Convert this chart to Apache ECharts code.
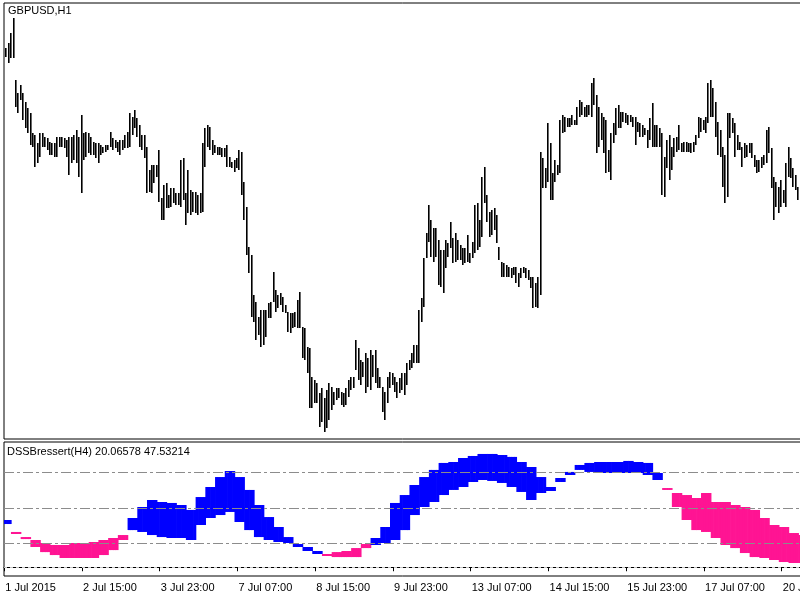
<!DOCTYPE html>
<html><head><meta charset="utf-8">
<script src="https://cdn.jsdelivr.net/npm/echarts@6/dist/echarts.min.js"></script>
<style>html,body{margin:0;padding:0;background:#fff}#c{width:800px;height:600px}</style>
</head><body><div id="c"></div><script>
const symbolTitle = 'GBPUSD,H1';
const indicatorTitle = 'DSSBressert(H4) 20.06578 47.53214';
const tickLabels = ['1 Jul 2015','2 Jul 15:00','3 Jul 23:00','7 Jul 07:00','8 Jul 15:00','9 Jul 23:00','13 Jul 07:00','14 Jul 15:00','15 Jul 23:00','17 Jul 07:00','20 Jul 15:00'];
const barsPerLabel = 32;

const barHigh = [
1.5752,1.5757,1.5767,1.5782,1.5720,1.5707,1.5715,1.5707,1.5698,1.5692,
1.5687,1.5667,1.5665,1.5657,1.5667,1.5667,1.5663,1.5662,1.5658,1.5657,
1.5657,1.5663,1.5663,1.5663,1.5662,1.5660,1.5663,1.5663,1.5665,1.5670,
1.5663,1.5685,1.5667,1.5668,1.5667,1.5663,1.5658,1.5657,1.5657,1.5655,
1.5653,1.5655,1.5655,1.5668,1.5662,1.5660,1.5658,1.5660,1.5660,1.5665,
1.5668,1.5687,1.5683,1.5690,1.5682,1.5675,1.5665,1.5665,1.5653,1.5630,
1.5635,1.5635,1.5635,1.5650,1.5602,1.5615,1.5617,1.5605,1.5612,1.5612,
1.5607,1.5607,1.5640,1.5642,1.5607,1.5630,1.5610,1.5608,1.5608,1.5605,
1.5607,1.5657,1.5672,1.5675,1.5673,1.5660,1.5655,1.5653,1.5653,1.5652,
1.5652,1.5655,1.5643,1.5638,1.5640,1.5642,1.5650,1.5648,1.5618,1.5593,
1.5553,1.5545,1.5505,1.5498,1.5483,1.5490,1.5490,1.5490,1.5497,1.5498,
1.5528,1.5510,1.5505,1.5507,1.5503,1.5495,1.5488,1.5487,1.5487,1.5488,
1.5500,1.5508,1.5473,1.5472,1.5453,1.5452,1.5423,1.5420,1.5417,1.5407,
1.5412,1.5402,1.5410,1.5417,1.5413,1.5408,1.5412,1.5412,1.5408,1.5407,
1.5412,1.5420,1.5423,1.5423,1.5460,1.5452,1.5440,1.5438,1.5447,1.5442,
1.5450,1.5445,1.5450,1.5432,1.5423,1.5413,1.5408,1.5423,1.5428,1.5427,
1.5423,1.5418,1.5422,1.5427,1.5427,1.5437,1.5440,1.5447,1.5455,1.5455,
1.5490,1.5502,1.5542,1.5567,1.5595,1.5580,1.5572,1.5572,1.5560,1.5550,
1.5550,1.5560,1.5557,1.5578,1.5562,1.5567,1.5560,1.5555,1.5552,1.5552,
1.5565,1.5547,1.5558,1.5595,1.5597,1.5580,1.5623,1.5633,1.5605,1.5588,
1.5590,1.5592,1.5585,1.5553,1.5538,1.5537,1.5535,1.5533,1.5532,1.5533,
1.5533,1.5527,1.5532,1.5533,1.5532,1.5530,1.5523,1.5523,1.5517,1.5523,
1.5648,1.5642,1.5632,1.5677,1.5657,1.5627,1.5640,1.5635,1.5680,1.5685,
1.5683,1.5682,1.5682,1.5685,1.5680,1.5693,1.5700,1.5698,1.5693,1.5695,
1.5695,1.5717,1.5722,1.5705,1.5693,1.5687,1.5683,1.5680,1.5650,1.5667,
1.5677,1.5692,1.5695,1.5688,1.5688,1.5687,1.5685,1.5685,1.5683,1.5683,
1.5678,1.5677,1.5675,1.5672,1.5670,1.5682,1.5697,1.5675,1.5675,1.5672,
1.5667,1.5643,1.5660,1.5665,1.5653,1.5662,1.5663,1.5675,1.5657,1.5658,
1.5658,1.5657,1.5657,1.5658,1.5665,1.5683,1.5682,1.5680,1.5683,1.5717,
1.5720,1.5712,1.5698,1.5678,1.5670,1.5653,1.5645,1.5687,1.5687,1.5682,
1.5677,1.5665,1.5658,1.5653,1.5657,1.5655,1.5657,1.5657,1.5645,1.5640,
1.5640,1.5643,1.5645,1.5670,1.5673,1.5652,1.5623,1.5618,1.5613,1.5620,
1.5610,1.5637,1.5653,1.5642,1.5632,1.5625,1.5613,1.5613];

const barLow = [
1.5743,1.5737,1.5742,1.5742,1.5693,1.5687,1.5700,1.5680,1.5672,1.5667,
1.5655,1.5653,1.5633,1.5637,1.5643,1.5653,1.5653,1.5650,1.5645,1.5645,
1.5643,1.5643,1.5653,1.5653,1.5652,1.5643,1.5625,1.5637,1.5640,1.5637,
1.5623,1.5607,1.5640,1.5643,1.5647,1.5645,1.5645,1.5642,1.5637,1.5645,
1.5647,1.5648,1.5650,1.5653,1.5650,1.5652,1.5648,1.5645,1.5650,1.5652,
1.5652,1.5653,1.5665,1.5672,1.5663,1.5653,1.5650,1.5642,1.5607,1.5608,
1.5607,1.5617,1.5623,1.5598,1.5580,1.5580,1.5592,1.5592,1.5593,1.5597,
1.5595,1.5595,1.5593,1.5600,1.5575,1.5587,1.5585,1.5588,1.5587,1.5585,
1.5587,1.5588,1.5633,1.5653,1.5650,1.5645,1.5647,1.5645,1.5645,1.5643,
1.5643,1.5633,1.5633,1.5632,1.5628,1.5632,1.5630,1.5605,1.5580,1.5545,
1.5527,1.5483,1.5478,1.5460,1.5465,1.5453,1.5455,1.5463,1.5482,1.5482,
1.5498,1.5488,1.5492,1.5495,1.5488,1.5487,1.5468,1.5467,1.5472,1.5473,
1.5472,1.5472,1.5442,1.5440,1.5427,1.5392,1.5392,1.5397,1.5397,1.5373,
1.5378,1.5368,1.5372,1.5380,1.5390,1.5395,1.5400,1.5402,1.5395,1.5393,
1.5395,1.5403,1.5410,1.5412,1.5430,1.5420,1.5415,1.5423,1.5407,1.5413,
1.5410,1.5423,1.5417,1.5412,1.5412,1.5388,1.5380,1.5397,1.5412,1.5415,
1.5408,1.5402,1.5407,1.5410,1.5405,1.5415,1.5430,1.5432,1.5437,1.5437,
1.5437,1.5478,1.5493,1.5542,1.5558,1.5543,1.5538,1.5543,1.5515,1.5513,
1.5507,1.5532,1.5543,1.5552,1.5537,1.5538,1.5540,1.5540,1.5535,1.5537,
1.5538,1.5537,1.5542,1.5547,1.5550,1.5553,1.5563,1.5597,1.5578,1.5563,
1.5565,1.5570,1.5557,1.5540,1.5523,1.5523,1.5523,1.5523,1.5522,1.5525,
1.5517,1.5513,1.5522,1.5527,1.5522,1.5520,1.5512,1.5492,1.5493,1.5492,
1.5505,1.5612,1.5612,1.5618,1.5600,1.5600,1.5618,1.5625,1.5627,1.5667,
1.5668,1.5673,1.5673,1.5675,1.5675,1.5675,1.5683,1.5685,1.5683,1.5683,
1.5685,1.5683,1.5695,1.5647,1.5653,1.5660,1.5647,1.5627,1.5628,1.5620,
1.5657,1.5665,1.5672,1.5672,1.5678,1.5677,1.5675,1.5678,1.5673,1.5655,
1.5668,1.5663,1.5663,1.5665,1.5652,1.5660,1.5653,1.5653,1.5653,1.5653,
1.5605,1.5603,1.5632,1.5620,1.5630,1.5643,1.5648,1.5650,1.5648,1.5648,
1.5648,1.5648,1.5647,1.5648,1.5655,1.5662,1.5668,1.5670,1.5667,1.5677,
1.5683,1.5683,1.5663,1.5645,1.5643,1.5613,1.5597,1.5603,1.5662,1.5667,
1.5643,1.5650,1.5650,1.5633,1.5642,1.5643,1.5647,1.5642,1.5633,1.5627,
1.5628,1.5632,1.5635,1.5637,1.5647,1.5612,1.5580,1.5593,1.5587,1.5593,
1.5597,1.5593,1.5623,1.5622,1.5613,1.5610,1.5600,1.5595];

// DSS Bressert (H4) values, one per H4 bar
const dssH4 = [
39.9,28.1,23.8,17.1,12.8,10.3,7.8,7.8,7.8,7.8,
10.3,14.5,23.0,41.6,50.9,56.8,55.1,54.3,52.6,48.4,
59.3,67.8,76.2,81.3,76.2,65.3,52.6,42.4,34.0,25.5,
19.6,17.1,13.7,9.5,8.6,8.6,8.6,16.2,24.7,34.0,
54.3,61.0,69.5,76.2,82.2,88.1,88.9,92.3,94.0,95.7,
95.7,94.8,93.2,88.9,84.7,76.2,67.8,75.4,80.5,86.4,
88.1,88.9,88.9,88.9,89.8,88.9,88.1,79.6,65.3,50.9,
39.9,31.4,29.8,24.7,18.8,16.2,12.0,8.6,7.8,6.1,
4.4,3.6,3.6];
const signalH4 = [
36.5,29.8,25.5,23.0,20.5,18.8,18.8,20.5,20.5,21.3,
23.0,24.7,27.2,31.4,29.8,27.2,25.5,24.7,24.7,23.0,
35.7,41.6,44.1,46.7,38.2,31.4,25.5,23.0,21.3,20.5,
17.1,13.7,11.2,11.2,12.8,13.7,16.2,19.6,18.8,20.5,
23.0,31.4,44.1,50.9,55.1,61.0,65.3,67.8,72.0,73.7,
72.9,71.2,67.8,63.6,56.8,62.7,64.4,72.0,77.9,82.2,
80.5,79.6,79.6,79.6,79.6,79.6,77.9,73.7,66.9,62.7,
61.0,58.5,62.7,55.1,55.1,52.6,50.9,48.4,41.6,35.7,
34.0,28.9,27.2];
const levels = [80, 50, 20];
const zeroLevel = 0;

const barIndex = barHigh.map((_, i) => i);
const h4Of = i => Math.floor((i + 1) / 4);

const FONT = '"Liberation Sans", Arial, sans-serif';
const chart = echarts.init(document.getElementById('c'), null, {renderer: 'canvas'});

function renderBar(params, api) {
  const i = api.value(0);
  const hi = api.coord([i, api.value(1)]);
  const lo = api.coord([i, api.value(2)]);
  const x = Math.round(hi[0]) + 0.8;
  return {type: 'line', shape: {x1: x, y1: hi[1], x2: x, y2: lo[1]},
          style: {stroke: '#000', lineWidth: 1.6}};
}
function renderBand(params, api) {
  const i = api.value(0), d = api.value(1), s = api.value(2);
  const p1 = api.coord([i, d]), p2 = api.coord([i, s]);
  const w = api.size([1, 0])[0];
  let y = Math.min(p1[1], p2[1]);
  let h = Math.abs(p1[1] - p2[1]);
  if (h < 1.8) { y -= (1.8 - h) / 2; h = 1.8; }
  return {type: 'rect', shape: {x: p1[0] - w / 2 - 0.35, y: y, width: w + 0.7, height: h},
          style: {fill: d >= s ? '#0000FF' : '#FF1493'}};
}

const levelLines = levels.map(v => ({yAxis: v, lineStyle: {color: '#8c8c8c', width: 1, type: [10, 3, 3, 3]}}));
levelLines.push({yAxis: zeroLevel, lineStyle: {color: '#c4c4c4', width: 1, type: [3, 3]}});

chart.setOption({
  animation: false,
  backgroundColor: '#ffffff',
  grid: [
    {left: 4, top: 3, width: 797, height: 436, show: true, borderColor: '#000', borderWidth: 1,
     containLabel: false, outerBoundsMode: 'none'},
    {left: 4, top: 442, width: 797, height: 134, show: true, borderColor: '#000', borderWidth: 1,
     containLabel: false, outerBoundsMode: 'none'}
  ],
  xAxis: [
    {type: 'category', gridIndex: 0, data: barIndex, boundaryGap: true,
     axisLine: {show: false}, axisTick: {show: false}, axisLabel: {show: false}, splitLine: {show: false}},
    {type: 'category', gridIndex: 1, data: barIndex, boundaryGap: true,
     axisLine: {show: true, lineStyle: {color: '#000'}},
     axisTick: {show: true, interval: barsPerLabel - 1, length: 4, lineStyle: {color: '#000'}},
     axisLabel: {show: true, interval: barsPerLabel - 1, align: 'left', margin: 6, color: '#000',
       fontSize: 11, fontFamily: FONT, hideOverlap: false,
       formatter: (v, idx) => (idx % barsPerLabel === 0 ? (tickLabels[idx / barsPerLabel] || '') : '')},
     splitLine: {show: false}}
  ],
  yAxis: [
    {type: 'value', gridIndex: 0, min: 1.5361, max: 1.5797, show: false, splitLine: {show: false}},
    {type: 'value', gridIndex: 1, min: -7.4, max: 105.8, show: false, splitLine: {show: false}}
  ],
  graphic: [
    {type: 'text', left: 8, top: 5, z: 100, style: {text: symbolTitle, fill: '#000', font: '11px ' + FONT}},
    {type: 'text', left: 7, top: 446, z: 100, style: {text: indicatorTitle, fill: '#000', font: '11px ' + FONT}}
  ],
  series: [
    {type: 'custom', name: 'price', xAxisIndex: 0, yAxisIndex: 0, renderItem: renderBar,
     encode: {x: 0, y: [1, 2]}, clip: true,
     data: barIndex.map(i => [i, barHigh[i], barLow[i]])},
    {type: 'custom', name: 'dss', xAxisIndex: 1, yAxisIndex: 1, renderItem: renderBand, z: 2,
     encode: {x: 0, y: [1, 2]}, clip: true,
     data: barIndex.map(i => [i, dssH4[h4Of(i)], signalH4[h4Of(i)]])},
    {type: 'line', name: 'levels', xAxisIndex: 1, yAxisIndex: 1, data: [], z: 5,
     markLine: {silent: true, symbol: 'none', label: {show: false}, animation: false, data: levelLines}}
  ]
});
</script></body></html>
